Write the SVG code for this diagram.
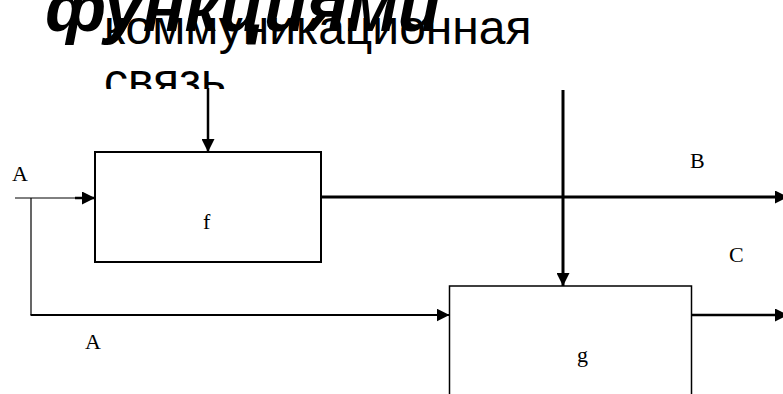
<svg xmlns="http://www.w3.org/2000/svg" width="783" height="394" viewBox="0 0 783 394">
  <defs>
    <marker id="ah" markerUnits="userSpaceOnUse" markerWidth="13" markerHeight="13" refX="13" refY="6.5" orient="auto">
      <path d="M0,0 L13,6.5 L0,13 z" fill="#000"/>
    </marker>
    <clipPath id="imgtop">
      <rect x="0" y="0" width="783" height="89"/>
    </clipPath>
  </defs>
  <style>
    .box { fill: #fff; stroke: #000; }
    .lbl { font-family: "Liberation Serif", "Times New Roman", serif; font-size: 22px; fill: #000; }
    .cap { font-family: "Liberation Sans", Arial, sans-serif; font-size: 48px; fill: #000; }
    .title { font-family: "Liberation Sans", Arial, sans-serif; font-size: 69px; font-weight: bold; font-style: italic; fill: #000; }
    .ln { fill: none; stroke: #000; }
  </style>
  <rect x="0" y="0" width="783" height="394" fill="#fff"/>

  <g id="title">
    <text class="title" x="45" y="31">функциями</text>
  </g>
  <g id="caption" clip-path="url(#imgtop)">
    <text class="cap" x="104" y="43.5">коммуникационная</text>
    <text class="cap" x="104" y="97">связь</text>
  </g>

  <g id="node-f">
    <rect class="box" x="95" y="152" width="226" height="110" stroke-width="2"/>
    <text class="lbl" x="203" y="229">f</text>
  </g>
  <g id="node-g">
    <rect class="box" x="449.5" y="286" width="242" height="120" stroke-width="1.5"/>
    <text class="lbl" x="577" y="362">g</text>
  </g>

  <g id="connectors">
    <line class="ln" x1="208" y1="88" x2="208" y2="152" stroke-width="2.5" marker-end="url(#ah)"/>
    <line class="ln" x1="15" y1="198" x2="76" y2="198" stroke-width="1"/>
    <line class="ln" x1="75" y1="198" x2="95" y2="198" stroke-width="2.5" marker-end="url(#ah)"/>
    <polyline class="ln" points="31,198 31,315" stroke-width="1.2"/>
    <line class="ln" x1="30.5" y1="315" x2="449.5" y2="315" stroke-width="2" marker-end="url(#ah)"/>
    <line class="ln" x1="321" y1="197" x2="788" y2="197" stroke-width="3" marker-end="url(#ah)"/>
    <line class="ln" x1="563" y1="90" x2="563" y2="286" stroke-width="3" marker-end="url(#ah)"/>
    <line class="ln" x1="691.5" y1="315" x2="788" y2="315" stroke-width="2.3" marker-end="url(#ah)"/>
  </g>

  <g id="labels">
    <text class="lbl" x="12" y="180.5">A</text>
    <text class="lbl" x="85" y="349">A</text>
    <text class="lbl" x="690" y="168">B</text>
    <text class="lbl" x="729" y="262">C</text>
  </g>
</svg>
